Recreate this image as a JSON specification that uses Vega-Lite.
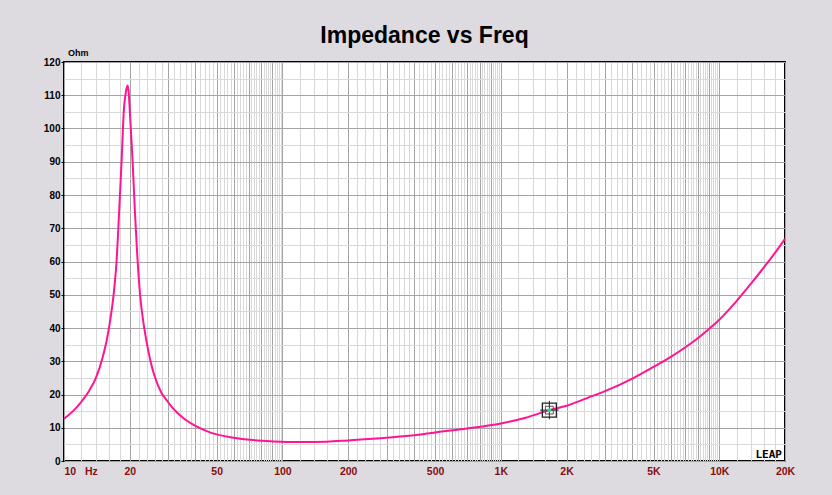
{
  "$schema": "https://vega.github.io/schema/vega-lite/v6.json",
  "width": 721,
  "height": 399,
  "autosize": {"type": "none"},
  "padding": {"left": 64, "top": 62, "right": 47, "bottom": 34},
  "background": "#dddbe0",
  "title": {"text": "Impedance vs Freq", "font": "Liberation Sans", "fontSize": 23, "fontWeight": "bold", "color": "#000000", "offset": 1, "anchor": "middle", "frame": "group"},
  "config": {
    "view": {"fill": "white", "stroke": "black", "strokeWidth": 2},
    "axis": {"labelFont": "Liberation Sans", "labelFontWeight": "bold", "labelFontSize": 10, "titleFont": "Liberation Sans"}
  },
  "datasets": {
    "imp": [
      {"f": 10, "z": 12.7}, {"f": 11, "z": 15.0}, {"f": 12, "z": 17.8}, {"f": 13, "z": 21.0}, {"f": 14, "z": 25.0},
      {"f": 15, "z": 31.0}, {"f": 15.7, "z": 36.4}, {"f": 16.5, "z": 45.0}, {"f": 16.9, "z": 50.5}, {"f": 17.4, "z": 60.0},
      {"f": 17.9, "z": 75.5}, {"f": 18.36, "z": 90.5}, {"f": 18.8, "z": 105.6}, {"f": 19.2, "z": 111.0}, {"f": 19.56, "z": 112.9},
      {"f": 19.8, "z": 110.5}, {"f": 20.0, "z": 105.6}, {"f": 20.3, "z": 98.0}, {"f": 20.6, "z": 90.5}, {"f": 21.1, "z": 75.5},
      {"f": 21.6, "z": 63.0}, {"f": 22.3, "z": 50.0}, {"f": 23.0, "z": 42.5}, {"f": 23.8, "z": 36.4}, {"f": 25, "z": 29.5},
      {"f": 26, "z": 25.5}, {"f": 28, "z": 20.4}, {"f": 29.5, "z": 18.3}, {"f": 31, "z": 16.4}, {"f": 33, "z": 14.5}, {"f": 36, "z": 12.4}, {"f": 40.4, "z": 10.4},
      {"f": 45, "z": 9.0}, {"f": 50, "z": 8.0}, {"f": 64, "z": 6.7}, {"f": 80, "z": 6.1}, {"f": 91, "z": 5.9},
      {"f": 120, "z": 5.7}, {"f": 160, "z": 5.8}, {"f": 200, "z": 6.2}, {"f": 300, "z": 7.0}, {"f": 410, "z": 7.8},
      {"f": 500, "z": 8.6}, {"f": 700, "z": 9.8}, {"f": 1000, "z": 11.3}, {"f": 1300, "z": 13.0}, {"f": 1668, "z": 15.3},
      {"f": 2000, "z": 16.6}, {"f": 2500, "z": 19.0}, {"f": 3000, "z": 21.0}, {"f": 4000, "z": 24.8}, {"f": 5000, "z": 28.3},
      {"f": 6000, "z": 31.3}, {"f": 7000, "z": 34.2}, {"f": 8000, "z": 37.0}, {"f": 9000, "z": 39.8}, {"f": 10000, "z": 42.5},
      {"f": 12000, "z": 48.1}, {"f": 14000, "z": 53.4}, {"f": 16000, "z": 58.2}, {"f": 18000, "z": 62.6}, {"f": 20000, "z": 66.8}
    ],
    "cursor": [{"f": 1668, "z": 15.3}],
    "notes": [{"f": 10, "z": 120, "t": "Ohm"}],
    "logo": [{"f": 20000, "z": 0, "t": "LEAP"}]
  },
  "layer": [
    {
      "data": {"name": "imp"},
      "mark": {"type": "line", "opacity": 0},
      "encoding": {
        "x": {"field": "f", "type": "quantitative", "scale": {"type": "log", "domain": [10, 20000], "nice": false},
          "axis": {"orient": "top", "title": null, "labels": false, "ticks": false, "domain": false, "grid": true, "gridColor": "#d9d9d9", "gridWidth": 1,
            "values": [12,14,16,18,22,24,26,28,32,34,36,38,42,44,46,48,52,54,56,58,62,64,66,68,72,74,76,78,82,84,86,88,92,94,96,98,
              120,140,160,180,220,240,260,280,320,340,360,380,420,440,460,480,520,540,560,580,620,640,660,680,720,740,760,780,820,840,860,880,920,940,960,980,
              1200,1400,1600,1800,2200,2400,2600,2800,3200,3400,3600,3800,4200,4400,4600,4800,5200,5400,5600,5800,6200,6400,6600,6800,7200,7400,7600,7800,8200,8400,8600,8800,9200,9400,9600,9800,
              12000,14000,16000,18000]}},
        "y": {"field": "z", "type": "quantitative", "scale": {"domain": [0, 120], "nice": false},
          "axis": {"orient": "right", "title": null, "labels": false, "ticks": false, "domain": false, "grid": true, "gridColor": "#d9d9d9", "gridWidth": 1,
            "values": [5,15,25,35,45,55,65,75,85,95,105,115]}}
      }
    },
    {
      "data": {"name": "imp"},
      "mark": {"type": "line", "color": "#ff1493", "strokeWidth": 2, "interpolate": "monotone"},
      "encoding": {
        "x": {"field": "f", "type": "quantitative",
          "axis": {"orient": "bottom", "title": null, "ticks": false, "domain": false, "grid": true, "gridColor": "#a4a4a4", "gridWidth": 1,
            "labelColor": "#850f0f", "labelFontSize": 10.5, "labelPadding": 5, "labelOverlap": false, "labelFlush": false, "labelBound": false,
            "labelAlign": {"condition": {"test": "datum.value == 10", "value": "left"}, "value": "center"},
            "labelExpr": "indexof([10,20,50,100,200,500,1000,2000,5000,10000,20000], datum.value) >= 0 ? (datum.value == 10 ? '10\u00a0\u00a0\u00a0Hz' : (datum.value >= 1000 ? (datum.value / 1000) + 'K' : datum.value + '')) : ''",
            "values": [10,20,30,40,50,60,70,80,90,100,200,300,400,500,600,700,800,900,1000,2000,3000,4000,5000,6000,7000,8000,9000,10000,20000]}},
        "y": {"field": "z", "type": "quantitative",
          "axis": {"orient": "left", "title": null, "ticks": true, "tickSize": 3, "tickColor": "black", "domain": false, "grid": true, "gridColor": "#a4a4a4", "gridWidth": 1,
            "labelColor": "black", "labelPadding": 1, "values": [0,10,20,30,40,50,60,70,80,90,100,110,120]}}
      }
    },
    {
      "data": {"name": "cursor"},
      "mark": {"type": "point", "shape": "square", "size": 196, "filled": false, "stroke": "#222222", "strokeWidth": 1.3, "opacity": 1},
      "encoding": {"x": {"field": "f", "type": "quantitative", "axis": null}, "y": {"field": "z", "type": "quantitative", "axis": null}}
    },
    {
      "data": {"name": "cursor"},
      "mark": {"type": "point", "shape": "M-1,0H1M0,-1V1", "size": 340, "filled": false, "stroke": "#222222", "strokeWidth": 1, "opacity": 1},
      "encoding": {"x": {"field": "f", "type": "quantitative", "axis": null}, "y": {"field": "z", "type": "quantitative", "axis": null}}
    },
    {
      "data": {"name": "cursor"},
      "mark": {"type": "point", "shape": "square", "size": 60, "filled": false, "stroke": "#555555", "strokeWidth": 1, "opacity": 1},
      "encoding": {"x": {"field": "f", "type": "quantitative", "axis": null}, "y": {"field": "z", "type": "quantitative", "axis": null}}
    },
    {
      "data": {"name": "cursor"},
      "mark": {"type": "point", "shape": "circle", "size": 14, "filled": true, "color": "#30e080", "opacity": 1},
      "encoding": {"x": {"field": "f", "type": "quantitative", "axis": null}, "y": {"field": "z", "type": "quantitative", "axis": null}}
    },
    {
      "data": {"name": "notes"},
      "mark": {"type": "text", "align": "left", "baseline": "middle", "dx": 4, "dy": -9, "font": "Liberation Sans", "fontSize": 9, "fontWeight": "bold", "color": "black", "clip": false},
      "encoding": {"x": {"field": "f", "type": "quantitative", "axis": null}, "y": {"field": "z", "type": "quantitative", "axis": null}, "text": {"field": "t"}}
    },
    {
      "data": {"name": "logo"},
      "mark": {"type": "text", "align": "right", "baseline": "middle", "dx": -3, "dy": -6, "font": "DejaVu Sans Mono", "fontSize": 11, "fontWeight": "bold", "color": "black"},
      "encoding": {"x": {"field": "f", "type": "quantitative", "axis": null}, "y": {"field": "z", "type": "quantitative", "axis": null}, "text": {"field": "t"}}
    }
  ],
  "resolve": {"axis": {"x": "independent", "y": "independent"}}
}
